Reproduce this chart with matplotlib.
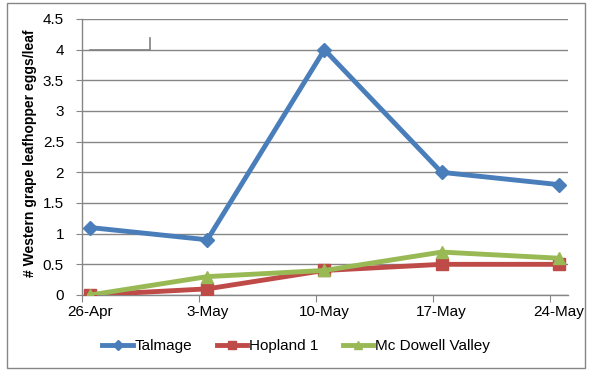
import matplotlib
matplotlib.use("Agg")
import matplotlib.pyplot as plt
from matplotlib.lines import Line2D
from matplotlib.patches import Rectangle

categories = ["26-Apr", "3-May", "10-May", "17-May", "24-May"]
talmage = [1.1, 0.9, 4.0, 2.0, 1.8]
hopland = [0.0, 0.1, 0.4, 0.5, 0.5]
mcdowell = [0.0, 0.3, 0.4, 0.7, 0.6]
yticks = [0, 0.5, 1, 1.5, 2, 2.5, 3, 3.5, 4, 4.5]
ytick_labels = ["0", "0.5", "1", "1.5", "2", "2.5", "3", "3.5", "4", "4.5"]

plt.rcParams['font.family'] = ['Liberation Sans', 'DejaVu Sans']

fig = plt.figure(figsize=(5.95, 3.79), dpi=100)
ax = fig.add_axes([82/595, 1-295/379, (568-82)/595, (295-19)/379])

x = list(range(len(categories)))
blue, red, green = "#4A7EBB", "#BE4B48", "#98B954"
ax.plot(x, talmage, color=blue, lw=3.5, marker="D", ms=7, mfc=blue, mec=blue, label="Talmage", zorder=3)
ax.plot(x, hopland, color=red, lw=3.5, marker="s", ms=9, mfc=red, mec=red, label="Hopland 1", zorder=4)
ax.plot(x, mcdowell, color=green, lw=3.5, marker="^", ms=9, mfc=green, mec=green, label="Mc Dowell Valley", zorder=5)

ax.set_xlim(-0.07, 4.08)
ax.set_ylim(0, 4.5)
ax.set_yticks(yticks)
ax.set_yticklabels(ytick_labels, fontsize=11)
ax.yaxis.grid(True, color="#868686", lw=1)
ax.set_axisbelow(True)

ax.set_xticks([i - 0.07 for i in x])
ax.set_xticklabels([])
ax.set_xticks(x, minor=True)
ax.set_xticklabels(categories, minor=True, fontsize=11)
ax.tick_params(axis="x", which="major", length=5, color="#868686", direction="out")
ax.tick_params(axis="x", which="minor", length=0, pad=7)
ax.tick_params(axis="y", length=4, color="#868686", direction="out", pad=9)

for s in ["top", "right"]:
    ax.spines[s].set_visible(False)
for s in ["left", "bottom"]:
    ax.spines[s].set_color("#868686")
    ax.spines[s].set_linewidth(1)

ax.set_ylabel("# Western grape leafhopper eggs/leaf", fontsize=10, fontweight="bold")
ax.yaxis.set_label_coords((30 - 82) / 486, (295 - 153) / 276)
ax.yaxis.label.set_verticalalignment("center")

handles = [Line2D([], [], color=blue, lw=3.5, marker="D", ms=5),
           Line2D([], [], color=red, lw=3.5, marker="s", ms=6),
           Line2D([], [], color=green, lw=3.5, marker="^", ms=6)]
fig.legend(handles, ["Talmage", "Hopland 1", "Mc Dowell Valley"], loc="center",
           bbox_to_anchor=(296/595, 1-346/379), ncol=3, frameon=False, fontsize=11,
           handlelength=2.0, handletextpad=0.1, columnspacing=1.6)

# outer chart border
fig.patches.append(Rectangle((7/595, 1-368/379), (585-7)/595, (368-3)/379,
                             transform=fig.transFigure, fill=False, ec="#868686", lw=1))
# small artifact line near top-left
fig.add_artist(Line2D([90/595, 150/595, 150/595], [1-49.5/379, 1-49.5/379, 1-38/379],
                      transform=fig.transFigure, color="#808080", lw=1.2))

fig.savefig("out.png", dpi=100)
